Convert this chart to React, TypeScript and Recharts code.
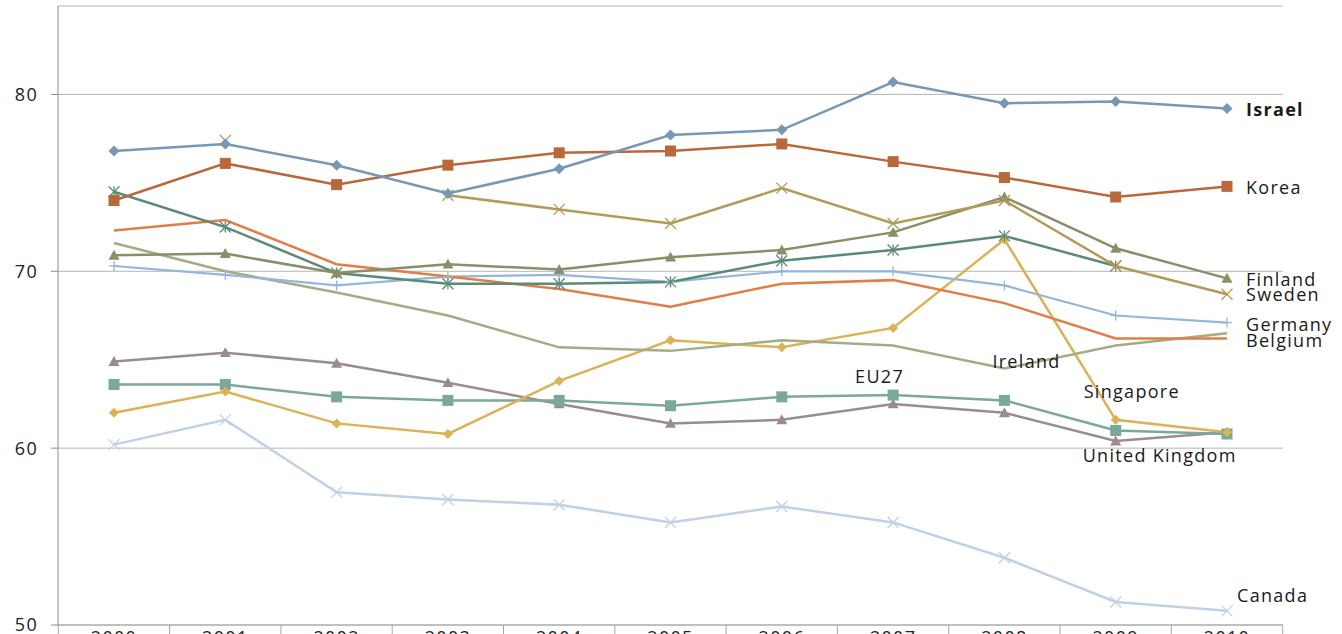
import { LineChart, Line, XAxis, YAxis, CartesianGrid } from "recharts";

const years = ["2000", "2001", "2002", "2003", "2004", "2005", "2006", "2007", "2008", "2009", "2010"];
const yTicks = [50, 60, 70, 80];

const israel = [76.8, 77.2, 76.0, 74.4, 75.8, 77.7, 78.0, 80.7, 79.5, 79.6, 79.2];
const korea = [74.0, 76.1, 74.9, 76.0, 76.7, 76.8, 77.2, 76.2, 75.3, 74.2, 74.8];
const sweden = [null, 77.4, null, 74.3, 73.5, 72.7, 74.7, 72.7, 74.0, 70.3, 68.7];
const finland = [70.9, 71.0, 69.9, 70.4, 70.1, 70.8, 71.2, 72.2, 74.2, 71.3, 69.6];
const unitedStates = [74.5, 72.5, 69.9, 69.3, 69.3, 69.4, 70.6, 71.2, 72.0, 70.3, null];
const belgium = [72.3, 72.9, 70.4, 69.7, 69.0, 68.0, 69.3, 69.5, 68.2, 66.2, 66.2];
const germany = [70.3, 69.8, 69.2, 69.7, 69.8, 69.4, 70.0, 70.0, 69.2, 67.5, 67.1];
const ireland = [71.6, 70.0, 68.8, 67.5, 65.7, 65.5, 66.1, 65.8, 64.5, 65.8, 66.5];
const singapore = [62.0, 63.2, 61.4, 60.8, 63.8, 66.1, 65.7, 66.8, 71.8, 61.6, 60.9];
const eu27 = [63.6, 63.6, 62.9, 62.7, 62.7, 62.4, 62.9, 63.0, 62.7, 61.0, 60.8];
const unitedKingdom = [64.9, 65.4, 64.8, 63.7, 62.5, 61.4, 61.6, 62.5, 62.0, 60.4, 60.9];
const canada = [60.2, 61.6, 57.5, 57.1, 56.8, 55.8, 56.7, 55.8, 53.8, 51.3, 50.8];

const FONT = "'Open Sans', sans-serif";
const SPACING = 1.3;

// drawing order: first = bottom
const series = [
  { key: "canada", name: "Canada", values: canada, color: "#bfd1e5", width: 2.5, shape: "x", size: 11,
    label: { index: 10, dx: 10, dy: -16 } },
  { key: "uk", name: "United Kingdom", values: unitedKingdom, color: "#9a8c8e", width: 2.5, shape: "triangle", size: 11,
    label: { index: 9, dx: -33, dy: 14 } },
  { key: "eu27", name: "EU27", values: eu27, color: "#7aa89a", width: 2.5, shape: "square", size: 11,
    label: { index: 7, dx: -38, dy: -19 } },
  { key: "singapore", name: "Singapore", values: singapore, color: "#dcb257", width: 2.5, shape: "diamond", size: 10,
    label: { index: 9, dx: -32, dy: -29 } },
  { key: "ireland", name: "Ireland", values: ireland, color: "#a3ac85", width: 2.5, shape: "none", size: 0,
    label: { index: 8, dx: -12, dy: -8 } },
  { key: "germany", name: "Germany", values: germany, color: "#93b6dc", width: 2.2, shape: "plus", size: 10,
    label: { index: 10, dx: 19, dy: 1 } },
  { key: "belgium", name: "Belgium", values: belgium, color: "#e27d46", width: 2.5, shape: "none", size: 0,
    label: { index: 10, dx: 19, dy: 2 } },
  { key: "us", name: "United States", values: unitedStates, color: "#5b8a79", width: 2.5, shape: "star", size: 11,
    label: null },
  { key: "finland", name: "Finland", values: finland, color: "#898f66", width: 2.5, shape: "triangle", size: 11,
    label: { index: 10, dx: 19, dy: 1 } },
  { key: "sweden", name: "Sweden", values: sweden, color: "#b49a57", width: 2.5, shape: "x", size: 11,
    label: { index: 10, dx: 19, dy: 0 } },
  { key: "korea", name: "Korea", values: korea, color: "#b9683a", width: 2.5, shape: "square", size: 11,
    label: { index: 10, dx: 19, dy: 1 } },
  { key: "israel", name: "Israel", values: israel, color: "#7698b6", width: 2.5, shape: "diamond", size: 11,
    label: { index: 10, dx: 19, dy: 0 }, bold: true },
];

const data = years.map((year, i) => {
  const row: Record<string, any> = { year };
  series.forEach(s => { row[s.key] = s.values[i]; });
  return row;
});

function Marker({ cx, cy, shape, color, size }: any) {
  if (cx == null || cy == null || shape === "none") return <g />;
  const r = size / 2;
  switch (shape) {
    case "diamond":
      return <path d={`M${cx},${cy - r}L${cx + r},${cy}L${cx},${cy + r}L${cx - r},${cy}Z`} fill={color} />;
    case "square":
      return <rect x={cx - r} y={cy - r} width={size} height={size} fill={color} />;
    case "triangle":
      return <path d={`M${cx},${cy - r}L${cx + r},${cy + r * 0.8}L${cx - r},${cy + r * 0.8}Z`} fill={color} />;
    case "x":
      return (
        <g stroke={color} strokeWidth={1.3}>
          <line x1={cx - r} y1={cy - r} x2={cx + r} y2={cy + r} />
          <line x1={cx - r} y1={cy + r} x2={cx + r} y2={cy - r} />
        </g>
      );
    case "plus":
      return (
        <g stroke={color} strokeWidth={1.3}>
          <line x1={cx} y1={cy - r} x2={cx} y2={cy + r} />
          <line x1={cx - r} y1={cy} x2={cx + r} y2={cy} />
        </g>
      );
    case "star":
      return (
        <g stroke={color} strokeWidth={1.3}>
          <line x1={cx - r} y1={cy - r} x2={cx + r} y2={cy + r} />
          <line x1={cx - r} y1={cy + r} x2={cx + r} y2={cy - r} />
          <line x1={cx} y1={cy - r} x2={cx} y2={cy + r} />
        </g>
      );
    default:
      return <g />;
  }
}

function YearTick(props: any) {
  const { x, y, payload, index, visibleTicksCount, width } = props;
  const half = width && visibleTicksCount ? width / visibleTicksCount / 2 : 55.7;
  return (
    <g>
      <line x1={x - half} x2={x - half} y1={y} y2={y + 14} stroke="#a6a6a6" />
      {index === visibleTicksCount - 1 && (
        <line x1={x + half} x2={x + half} y1={y} y2={y + 14} stroke="#a6a6a6" />
      )}
      <text x={x} y={y + 6} dy="0.71em" textAnchor="middle" fontSize={18} fontFamily={FONT}
        letterSpacing={SPACING} fill="#222">
        {payload.value}
      </text>
    </g>
  );
}

function makeLabel(s: any) {
  return (p: any) => {
    if (!s.label || p.index !== s.label.index || p.x == null) return null;
    return (
      <text
        x={p.x + s.label.dx}
        y={p.y + s.label.dy}
        dominantBaseline="central"
        textAnchor="start"
        fontSize={18}
        fontFamily={FONT}
        fontWeight={s.bold ? 700 : 400}
        letterSpacing={SPACING}
        fill="#1a1a1a"
      >
        {s.name}
      </text>
    );
  };
}

export default function App() {
  return (
    <div style={{ position: "absolute", left: 0, top: 0, width: 1342, height: 634, overflow: "hidden", background: "#fff" }}>
      <LineChart width={1342} height={680} data={data} margin={{ top: 6, right: 59, bottom: 25, left: 0 }}>
        <CartesianGrid horizontal vertical={false} stroke="#b5b5b5" />
        <XAxis
          dataKey="year"
          interval={0}
          padding={{ left: 56, right: 56 }}
          height={30}
          tickSize={0}
          tickMargin={0}
          tickLine={false}
          axisLine={{ stroke: "#a6a6a6" }}
          tick={<YearTick />}
        />
        <YAxis
          domain={[50, 85]}
          ticks={yTicks}
          width={58}
          tickSize={7}
          tickMargin={13}
          axisLine={{ stroke: "#8c8c8c" }}
          tickLine={{ stroke: "#8c8c8c" }}
          tick={{ fontSize: 18, fill: "#222", fontFamily: FONT, letterSpacing: SPACING }}
          allowDataOverflow
        />
        {series.map(s => (
          <Line
            key={s.key}
            dataKey={s.key}
            name={s.name}
            type="linear"
            stroke={s.color}
            strokeWidth={s.width}
            connectNulls={false}
            isAnimationActive={false}
            dot={(p: any) => <Marker key={`${s.key}-${p.index}`} cx={p.cx} cy={p.cy} shape={s.shape} color={s.color} size={s.size} />}
            activeDot={false}
            label={s.label ? makeLabel(s) : false}
          />
        ))}
      </LineChart>
    </div>
  );
}
